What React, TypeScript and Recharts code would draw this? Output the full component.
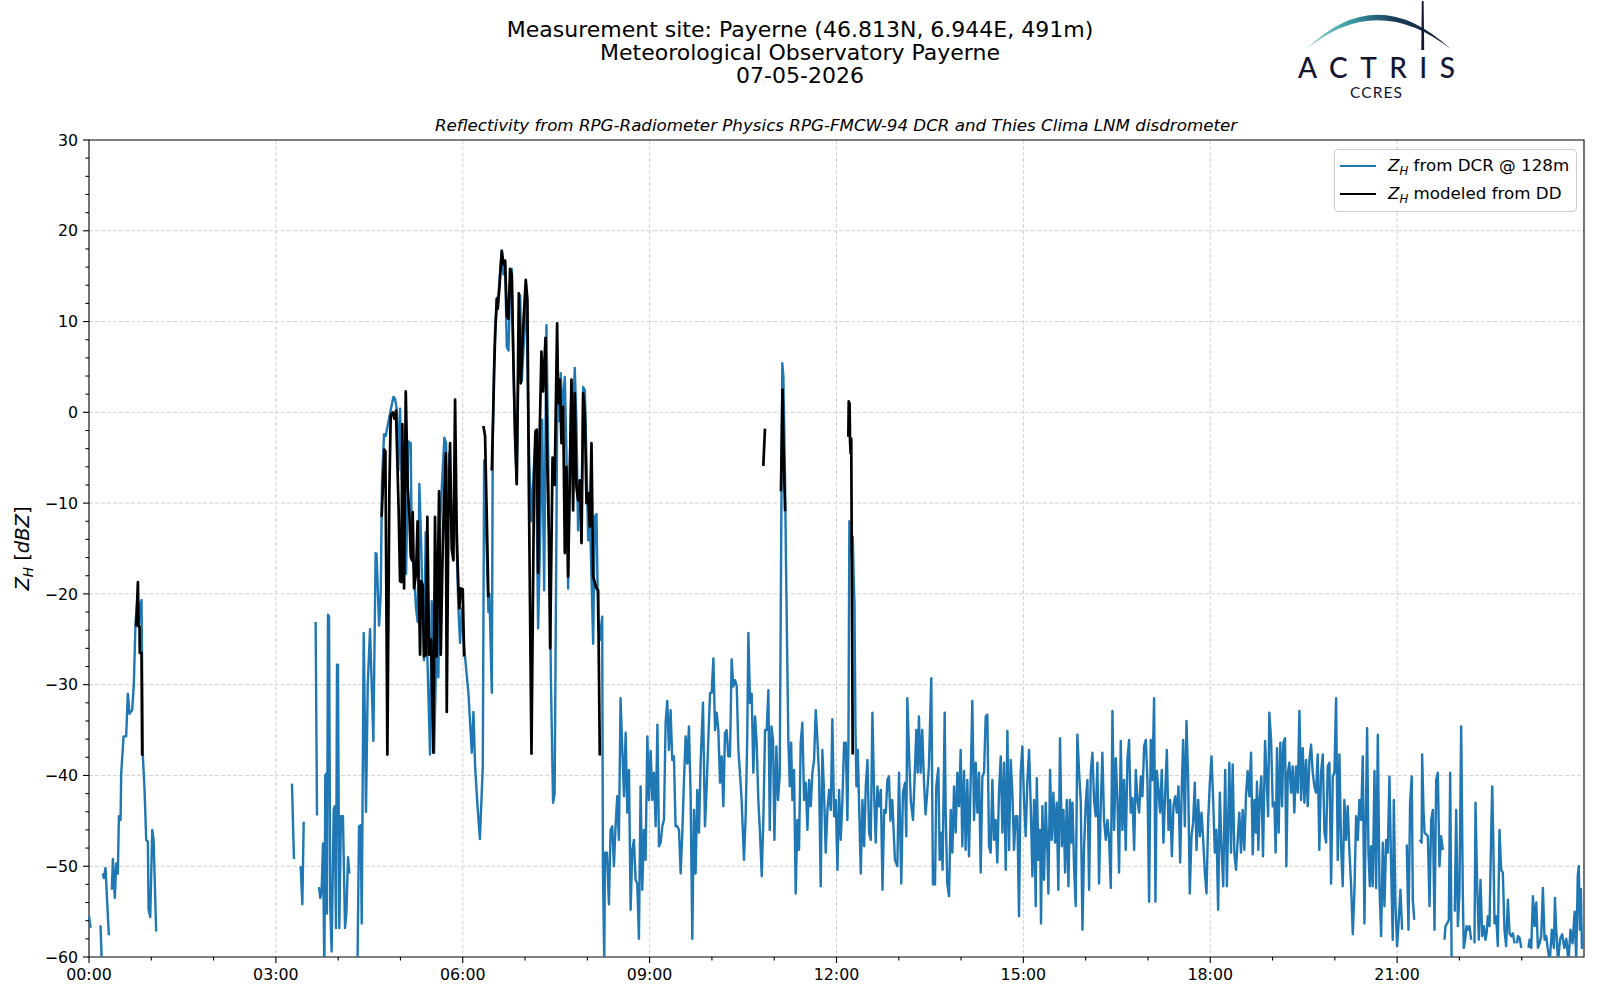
import React from "react";
import { LineChart, Line, XAxis, YAxis, CartesianGrid, ReferenceArea, Legend } from "recharts";

type Pt = [number, number | null];

// Minutes after 00:00 UTC, reflectivity in dBZ (null = no data)
const dcrPoints: Pt[] = [
  [0,-55.5],[1.5,-56.8],[2,null],
  [11.1,-56.5],[12.4,-61],[12.8,null],
  [13.3,-50.8],[14.3,-51.3],[15.9,-50.2],[19.1,-57.6],[20,null],
  [22,-52.6],[23,-49.2],[24.9,-53.5],[26.2,-49.7],[27.8,-50.8],[28.8,-44.5],[30.4,-44.9],[31,-39.8],[33.3,-35.7],[35.8,-35.7],[37.4,-31],[39,-33.2],[41.6,-32.8],[43.2,-29.9],[44.8,-23.2],[46.4,-21],[48,-23.6],[49.6,-21],[50.6,-20.7],[51.9,-37.9],[53.5,-41.6],[55.1,-47.1],[56.7,-47.3],[57.4,-54.8],[59,-55.6],[60.9,-46],[62.2,-47.1],[64.7,-57.2],[65,null],
  [195.5,-40.9],[197.4,-49.2],[198,null],
  [203.9,-50],[205.5,-54.2],[206.8,-45.1],[207,null],
  [218.3,-23.1],[219.6,-44.4],[220,null],
  [221.5,-52.3],[222.8,-53.5],[224.1,-52.6],[225.4,-47.5],[226.7,-62],[227.6,-40],[228.6,-39.8],[229.2,-55.2],[230.2,-22.3],[231.2,-22.5],[232.4,-54.5],[233.7,-59.4],[235.7,-43.8],[236.6,-43.4],[237.9,-56.8],[238.9,-27.8],[239.8,-27.8],[241.1,-56.8],[242.7,-44.5],[244.6,-44.5],[246.6,-56.8],[247.9,-55.2],[249.5,-49],[250.8,-50.8],[251,null],
  [258.5,-62],[260.1,-45.6],[261.7,-45.5],[262.7,-56.3],[264.6,-24.3],[266.8,-44],[268.5,-30],[270.7,-23.9],[273.9,-36.2],[276.1,-15.5],[277,-15.6],[279.4,-23.5],[281,-20],[282.2,-7.6],[284.2,-2.4],[285.8,-2.6],[289.3,-0.5],[291.6,0.8],[293.2,1.7],[294.8,1.5],[296.4,0.4],[298,-6.4],[299.6,0.4],[301.2,-7.2],[303.5,-11],[305.4,-17.8],[307.6,-3.2],[309.9,-3.4],[310.8,-14],[313.1,-17.8],[315,-21.6],[316.6,-23.1],[318.2,-7.9],[319.8,-14],[322.7,-27.3],[324.3,-13.2],[325.9,-26.9],[328.5,-37.7],[330.1,-20.8],[332.4,-37.5],[334.9,-24.6],[336.5,-29.2],[338.2,-12.1],[339.8,-8.3],[342.3,-2.8],[343.9,-3.4],[345.2,-12.1],[347.1,-4.5],[349.4,-14],[352.6,-8.3],[355.8,-21.6],[357.4,-25.4],[359,-21.6],[361.3,-25.8],[365.5,-31],[368.7,-37.5],[370.3,-33],[371.9,-39],[374,-43],[376.5,-47],[379.3,-39],[380.6,-5.3],[384.7,-22],[385.7,-20],[388,-30.9],[388.9,-3.4],[390.2,5.7],[392.8,12.5],[394.4,12.9],[396,15.6],[397.6,17.8],[399.2,15.2],[400.8,16.7],[402.4,7.2],[404,6.8],[405.6,13.3],[407.2,15.8],[408.8,5],[410.4,-2.6],[412,-7.9],[413.7,5],[415.3,12.9],[416.9,3.4],[419.1,8.4],[421,14],[422.3,5],
  [424,-5],[426,-12],[428.5,-6],[430,-3],[431.5,-13],[432.6,-23.8],[434.5,-14],[436.5,-0.8],[438.4,-19.6],[440.6,9.6],[442,-2],[443.5,-15],[445,-30],[447,-43],[448.5,-42],[451.2,3.6],[452.5,-1],[454.4,4.3],[456,0],[458.3,3.9],[459.9,-4.5],[461.5,-19.4],[463.1,-5.6],[464.7,3.2],[466.3,0],[467.9,4.9],[469.5,-1.2],[471.1,-13],[472.8,-7.5],[474.4,-10.4],[476,2.8],[477.6,2.4],[479.2,-5.3],[480.8,-14.1],[482.4,-11.1],[484,-18],[485.6,-25.5],[487.2,-11.5],[488.8,-11.2],[490.4,-23],[492,-25.1],[494.3,-22.5],[495,-50],[496.3,-60.5],
  [497,-48.5],[498.9,-48.5],[500.8,-54.2],[502.4,-46],[504,-45.6],[505.6,-50],[507.2,-45.6],[508.8,-42.3],[510.4,-47.1],[512,-31.5],[513.7,-37.2],[515.3,-42.3],[516.9,-35.3],[518.5,-44.1],[520.1,-39.4],[521.7,-54.8],[523.3,-48.2],[524.9,-47.1],[526.5,-51.5],[528.1,-51.9],[529.7,-58],[531.3,-41.2],[532.9,-52.6],[534.5,-46],[536.1,-49.3],[537.8,-35.7],[539.4,-42.7],[541,-37.3],[542.6,-42.7],[544.2,-39.7],[545.8,-45.6],[547.5,-34.4],[549,-47.8],[550.6,-47.4],[552.2,-45.6],[553.8,-44.9],[555.4,-34.2],[557,-31.8],[558.6,-37.2],[560.2,-32.8],[561.8,-38.3],[563.4,-37.9],[565,-45.6],[566.7,-45.6],[568.3,-46],[569.9,-50.8],[571.5,-46.3],[573,-40.8],[574.7,-35.7],[576.3,-38.7],[577.9,-34.6],[579.5,-42.3],[581.1,-58],[582.7,-43.8],[584.3,-50.8],[585.9,-41.6],[587.5,-46.3],[589.2,-38.3],[591.4,-32],[593.3,-45.6],[594.9,-41.4],[596.5,-36.1],[598.2,-30.9],[599.8,-30.9],[601.4,-27.1],[603,-35],[604.6,-33.1],[606.2,-35],[607.8,-40.8],[609.4,-37.9],[611,-43.4],[612.6,-35.3],[614.2,-35],[615.8,-37.9],[617.4,-37.9],[619,-27.2],[620.6,-30.2],[622.3,-29.5],[623.9,-30.2],[625.5,-37.2],[627,-39.7],[628.6,-42.7],[630.9,-49.3],[632.5,-44.5],[634,-36],[635.1,-24.3],[636.7,-32],[638.3,-31],[639.9,-39.7],[641.5,-33.5],[643.1,-36.4],[644.7,-42.7],[646.3,-46.3],[648,-51.1],[649.6,-44.5],[651.2,-35],[652.8,-35],[654.4,-30.6],[655.7,-46],[657.3,-34.6],[658.9,-36.1],[660.2,-47.1],[662.1,-36.8],[663.7,-42.7],[665.3,-40],[667.8,5.4],[668.8,4],[670.4,-7],[671.5,-18],[673.6,-36],[675,-41.2],[676.3,-36.4],[677.5,-42.7],[679.1,-39.4],[680.7,-53],[682.3,-44.9],[683.9,-48.2],[685.5,-36.4],[687.1,-34.2],[688.8,-42.7],[690.4,-40.8],[692,-46],[693.6,-40.5],[695.2,-43.4],[696.8,-39.7],[698.4,-38.3],[700,-32.8],[701.6,-36.1],[703.2,-40.1],[704.8,-52.2],[706.4,-37.2],[708,-41.9],[709.6,-48.5],[711.3,-43.8],[712.9,-41.6],[714.5,-43.8],[716,-33.8],[717.7,-44.5],[719.3,-42.7],[720.9,-50.4],[722.5,-41.6],[724.1,-47.1],[725.7,-42.7],[727.3,-36.4],[728.9,-36.4],[730.5,-44.9],[731.5,-36.1],[732.4,-12],[733.5,-16],[734.5,-14],[735.7,-13.7],[736.5,-18],[737.3,-21],[738.3,-35],[739.2,-41.2],[740.5,-37.2],[741.8,-43.4],[743.4,-50.8],[745,-42.7],[746.6,-47.8],[748.2,-41.2],[749.8,-38.3],[751.4,-46.3],[753,-47.1],[754.6,-33.1],[756.2,-41.9],[757.8,-47.4],[759.4,-41.2],[761,-43.4],[762.7,-41.6],[764.3,-52.6],[765.9,-43.8],[767.5,-44.1],[769,-40.5],
  [770.5,-40.1],[772,-45],[773.7,-42.7],[776.3,-49.3],[778.6,-50],[780.2,-39.7],[782.4,-51.9],[784,-41.9],[786,-40.8],[787.2,-46.7],[788.2,-31.5],[790.4,-39.4],[791.7,-43],[793.7,-44.9],[795.3,-40.1],[796.9,-35],[798.2,-39.7],[799.4,-33.5],[801,-39.7],[802.6,-35],[804.2,-40.5],[805.8,-44.3],[807.4,-41.9],[809,-39],[811.3,-29.3],[812.9,-52],[814.9,-52],[816.1,-41.2],[818.1,-39.2],[819.4,-49.3],[821,-46.3],[822.2,-50.4],[824.2,-33.1],[825.1,-43.8],[826.7,-51.9],[828.4,-53.3],[830,-43.8],[831.6,-48.5],[833.2,-41.2],[834.8,-46.3],[836.4,-39.7],[838,-43.4],[839.6,-37.2],[841.2,-47.8],[842.8,-39.5],[844.4,-48.2],[846,-40.5],[847.6,-48.9],[849.2,-40.8],[850.8,-31.8],[852.5,-44.9],[854.1,-38.6],[855.7,-44.1],[857.3,-39.7],[858.9,-50.7],[860.5,-40.1],[862.1,-39.7],[863.7,-33.5],[865.3,-33.3],[866.9,-47.8],[868.5,-48.5],[870.1,-40.5],[871.7,-47.1],[873.3,-44.9],[874.9,-49.6],[876.5,-41.9],[878.2,-37.9],[879.8,-46.3],[881.4,-38.6],[883,-50.4],[884.6,-35.1],[886.2,-48.2],[887.8,-38.3],[889.4,-41.9],[891,-48.2],[892.6,-44.5],[894.2,-44.5],[895.8,-55.5],[897.4,-39.7],[899,-36.8],[900.6,-42.7],[902.2,-46.7],[903.9,-40.5],[905.5,-37.2],[907.1,-43.4],[908.7,-51.1],[910.3,-42.7],[911.9,-54.4],[912.9,-40.3],[914.5,-49.3],[916.1,-46],[917,-56.3],[918.3,-43.4],[919.9,-51.5],[921.5,-43],[923.1,-48.2],[924.1,-53],[925.7,-39.4],[927.3,-47.1],[928.9,-41.9],[930.5,-47.4],[932.1,-43],[933.7,-52.6],[935.3,-35.9],[937,-47.8],[938.6,-43.8],[940.2,-50.7],[941.8,-42.7],[943.4,-52.2],[944.8,-42.7],[946.3,-47.4],[947.3,-43],[948.8,-50],[950.4,-54.4],[952,-35.5],[953.7,-39.7],[955.3,-43],[956.9,-57],[958.5,-47.8],[960.1,-43],[961.7,-40.5],[963.3,-52.6],[964.9,-39.7],[966.5,-37.5],[968.1,-42.7],[969.7,-44.5],[971.3,-38.6],[972.9,-51.9],[974.5,-43.4],[976.1,-37.5],[977.7,-44.9],[979.4,-47.1],[981,-44.9],[982.6,-47.1],[984.2,-52.4],[985.8,-32.9],[987.4,-46],[989,-38.1],[990.6,-42.7],[992.2,-50.7],[993.8,-36.2],[995.4,-46],[997,-40.5],[998.6,-48.2],[1000.2,-38.3],[1001.8,-36.1],[1003.4,-44.1],[1005.1,-42.5],[1006.7,-48.2],[1008.3,-39.4],[1009.9,-42.7],[1011.5,-44.1],[1013.1,-40.1],[1014.7,-42.3],[1016.3,-36.8],[1017.9,-36.1],[1019.5,-40.5],[1021.1,-53.9],[1022.7,-36.1],[1024.3,-40.5],[1025.9,-31.5],[1027.2,-53.9],[1028.5,-39.5],[1030.1,-41.6],[1031.7,-44.1],[1033.3,-39.4],[1034.9,-47.4],[1036.5,-42.3],[1038.2,-37.2],[1039.8,-46],[1041.4,-42.7],[1043,-48.9],[1044.6,-43.4],[1046.2,-42.3],[1047.8,-44.1],[1049.4,-41.2],[1051,-49.6],[1052.6,-41.2],[1053.9,-36.1],[1055.5,-45.6],[1057.1,-34],[1058.7,-40.5],[1060.3,-53],[1061.9,-46.7],[1063.5,-45.2],[1065.1,-40.8],[1066.8,-48.2],[1068.4,-42.7],[1070,-46.7],[1071.6,-44.1],[1073.2,-47.1],[1074.8,-50.7],[1076.4,-53],[1078,-44.9],[1079.6,-40.8],[1081.2,-37.9],[1082.8,-42.7],[1084.4,-48.5],[1086,-46],[1087.6,-54.8],[1089.2,-41.9],[1090.8,-47.8],[1092.5,-52.2],[1094.4,-39.4],[1096,-52.2],
  [1098.4,-38.6],[1100,-48.5],[1101.6,-38.8],[1103.2,-48.5],[1104.8,-50.4],[1106.4,-47.1],[1108,-44.1],[1109.6,-48.5],[1111.2,-43.8],[1112.8,-48.2],[1114.4,-42.3],[1116,-39.5],[1117.7,-42.3],[1119.3,-37.5],[1120.9,-48.7],[1122.5,-42.7],[1124,-46.3],[1125,-40.7],[1126.3,-48.2],[1127.6,-42.7],[1129.2,-40.1],[1130.8,-48.9],[1132.8,-36.2],[1134.4,-40.5],[1135.7,-44.5],[1136.9,-33.1],[1138.6,-36.1],[1140.2,-43.4],[1141.8,-43],[1143,-48.5],[1144.3,-37],[1145.9,-46.3],[1147.5,-36.4],[1149.2,-43.4],[1150.4,-36.4],[1152,-35.9],[1153.3,-50],[1154.7,-39.7],[1156.2,-38.6],[1157.8,-41.9],[1159.4,-39],[1161,-44.1],[1162.6,-39],[1164.3,-41.9],[1165.9,-32.9],[1167.5,-42.7],[1169.1,-37],[1170.7,-43],[1172.3,-38.3],[1173.9,-43.4],[1175.5,-38.3],[1177.1,-36.6],[1178.7,-39.7],[1180.3,-41.2],[1181.9,-41.9],[1183.5,-37.7],[1185.1,-48.2],[1186.7,-39.7],[1188.4,-37.7],[1190,-46.3],[1191.6,-47.4],[1193.2,-39],[1194.8,-38.6],[1196.4,-51.9],[1198,-40.1],[1199.6,-39.7],[1201.2,-31.5],[1202.8,-49.3],[1204.4,-37.7],[1206,-47.8],[1207.6,-52.2],[1209.2,-42.7],[1210.8,-47.1],[1212.4,-43.4],[1214,-48.2],[1215.7,-52.2],[1217.3,-57.5],[1218.9,-52.6],[1220.5,-44.5],[1222.1,-47.1],[1223.7,-42.7],[1225.3,-44.9],[1226.9,-37.9],[1228.5,-56.3],[1229.5,-47.1],[1231.1,-34.8],[1232.4,-48.5],[1233.7,-52.2],[1234.9,-47.8],[1236.5,-52.2],[1238.2,-39.5],[1239.8,-52.4],[1241.4,-35.5],[1243,-52.2],[1244.6,-57.7],[1246.2,-47.4],[1247.8,-54.4],[1249.4,-47.1],[1251,-48.5],[1252.6,-40.1],[1254.2,-50],[1255.8,-58.1],[1256.8,-42.7],[1258.4,-54.4],[1260,-58.8],[1261.6,-55.9],[1263.2,-52.6],[1264.8,-57],[1265.5,null],
  [1269.3,-47.6],[1270.9,-57],[1272.5,-43],[1274.1,-40.1],[1275.1,-53.7],[1276.5,-55.9],[1277,null],
  [1281.7,-47.1],[1283.6,-47.4],[1284.1,-37.7],[1285.4,-43.8],[1286.4,-46.3],[1289.6,-46.7],[1291.2,-54.4],[1292.8,-44.9],[1294.4,-43.8],[1296,-57],[1297.6,-40.5],[1299.2,-39.7],[1300.8,-50],[1302.4,-46.7],[1304,-48.2],[1304.5,null],
  [1305.6,-58.1],[1306.6,-56.6],[1308.2,-56.3],[1309.8,-55.9],[1311.1,-39.7],[1312.5,-60.5],[1313,null],
  [1315.5,-55],[1316.9,-43.8],[1318.5,-56.6],[1320,-53],[1321.7,-34.6],[1323.3,-53.3],[1324.2,-59],[1325.5,-58.1],[1326.8,-56.6],[1328.1,-57],[1329.7,-56.6],[1331.3,-58.1],[1332,null],
  [1334.5,-58.5],[1335.5,-43],[1337.1,-52.2],[1338.7,-58.1],[1340.3,-51.5],[1341.9,-57.7],[1343.5,-56.6],[1345.1,-58.1],[1346.2,-57.4],[1347.4,-55.5],[1349,-56.6],[1350.6,-46.3],[1351.6,-41.2],[1352.5,-46.3],[1353.8,-56.3],[1355.4,-55.5],[1357,-58.8],[1358.6,-46],[1360.2,-50.4],[1361.8,-50.7],[1363.4,-57],[1365,-58.8],[1366.7,-53.7],[1368.3,-57.4],[1369.9,-57.7],[1371.5,-57.4],[1373.1,-58.5],[1374,null],
  [1375.5,-58.5],[1376.3,-57.7],[1378,-57.9],[1379.6,-59],[1380.5,null],
  [1386.5,-59],[1387.6,-58.1],[1389.2,-59],[1390.8,-53.3],[1392.4,-56.6],[1394,-54],[1395.6,-59],[1397.2,-58.5],[1398.8,-57.7],[1400.4,-52.4],[1402,-58.1],[1403.6,-57.7],[1405,-59],[1407,-60.5],[1409,-57],[1411,-59],[1412,-53.5],[1413,-56.5],[1415,-60.5],[1417,-58],[1419,-57.5],[1421,-59],[1423,-58],[1425,-60.5],[1427,-57],[1429,-58.5],[1431,-55],[1432.5,-60.5],[1434,-51],[1435,-50],[1436,-57],[1437,-52.5],[1438,-59],[1439,-58.5],
];

const ddPoints: Pt[] = [
  [45.5,-23.6],[47.1,-18.7],[47.7,-23.6],[48.7,-23.6],[48.9,-26.5],[50.6,-26.5],[51.2,-37.7],[52.5,-37.7],[53,null],
  [281.9,-11.5],[284.5,-4.1],[285.5,-4.3],[287.4,-37.7],[289.3,-8.7],[290.6,-0.4],[292.5,0],[294.1,-0.7],[295.7,0.2],[298.3,-11],[299.6,-18.6],[300.9,-18.7],[301.8,-1.3],[303.5,-19.4],[305.1,2.3],[307,-8.3],[308.6,-11.3],[309.9,-15.9],[311.1,-16.3],[311.8,-11],[313.1,-19.4],[315,-17.8],[316.5,-12],[318.9,-26.7],[319.8,-18.6],[321.4,-19],[322.7,-26.9],[324.6,-26.7],[325.9,-11.5],[327.6,-26.7],[329.5,-25],[331.7,-37.5],[333.3,-11.5],[334.9,-26.9],[337.2,-8.7],[338.8,-26.7],[340.7,-15.1],[342,-9.5],[343.6,-4.5],[344.6,-33],[346.2,-11],[347.8,-3.4],[349.4,-15.1],[351,-16.3],[352.6,1.4],[354.2,-13.2],[355.8,-19.4],[356.8,-21.6],[358.1,-19.4],[360,-19.5],[361.3,-26.9],[362,null],
  [379.9,-1.5],[381.5,-2.6],[383.1,-11.3],[384.7,-20.4],[385.5,null],
  [388,-6.4],[390.2,4.2],[391.2,8.7],[392.8,12.5],[393.7,11.4],[395.3,13.7],[397.6,17.8],[399.2,16.3],[400.8,16.7],[402.4,10.6],[404,10.3],[405.6,15.8],[407.2,15.2],[408.8,5.7],[410.4,-2.6],[412,-7.9],[414,13.1],[415.9,3.2],[418.1,9.1],[420.7,14.6],[422.3,12.4],[423.6,-7.5],[426.2,-37.6],[428.7,-7.5],[430,-2.1],[431.3,-1.9],[432.6,-17.7],[434.2,-1.8],[435.8,6.7],[437.4,2.3],[439.7,8.2],[441.3,-4.9],[442.9,-13.3],[444.2,-26],[446.5,-5],[448.5,-8],[450.9,9.8],[451.9,1],[453.5,3.6],[455.1,-3.4],[456.7,0.6],[458.3,-15.5],[459.9,-6],[461.5,-18.1],[463.1,-7.5],[464.7,3.6],[466.3,-10.8],[467.9,2.1],[469.5,-8.2],[471.1,-9.7],[472.8,-7.5],[474.4,-14.4],[476,2.1],[477.6,-0.1],[479.2,-10],[480.8,-8.9],[482.4,-12.6],[484,-3.4],[485.6,-18.1],[488.8,-19.4],[490.4,-19.6],[492,-37.8],[492.5,null],
  [649.5,-5.9],[651.1,-1.8],[651.5,null],
  [666.5,-8.7],[668,2.5],[669,-4],[670.5,-10.9],[671,null],
  [731.4,-2.7],[731.8,1.2],[732.6,1.0],[733,-3],[733.6,-4.5],[734.2,-2.9],[735.6,-37.7],
];

const xTicks = [0,60,120,180,240,300,360,420,480,540,600,660,720,780,840,900,960,1020,1080,1140,1200,1260,1320,1380];
const xMajorTicks = [0,180,360,540,720,900,1080,1260];
const xTickLabels = ["00:00","03:00","06:00","09:00","12:00","15:00","18:00","21:00"];
const yTicks = [-60,-58,-56,-54,-52,-50,-48,-46,-44,-42,-40,-38,-36,-34,-32,-30,-28,-26,-24,-22,-20,-18,-16,-14,-12,-10,-8,-6,-4,-2,0,2,4,6,8,10,12,14,16,18,20,22,24,26,28,30];
const yMajorTicks = [-60,-50,-40,-30,-20,-10,0,10,20,30];
const yTickLabels = ["−60","−50","−40","−30","−20","−10","0","10","20","30"];
const gridY = [-50,-40,-30,-20,-10,0,10,20];
const gridX = [180,360,540,720,900,1080,1260];

const titleLines = ["Measurement site: Payerne (46.813N, 6.944E, 491m)", "Meteorological Observatory Payerne", "07-05-2026"];
const subtitle = "Reflectivity from RPG-Radiometer Physics RPG-FMCW-94 DCR and Thies Clima LNM disdrometer";
const legendLabels = ["from DCR @ 128m", "modeled from DD"];
const seriesColors = ["#1f77b4", "#000000"];

const dcrData = dcrPoints.map(([t, v]) => ({ t, v }));
const ddData = ddPoints.map(([t, v]) => ({ t, v }));

const FONT = "DejaVu Sans, sans-serif";
const TICK_FONT = 15.8;

const XTick = (props: any) => {
  const { x, y, payload } = props;
  const idx = xMajorTicks.indexOf(payload.value);
  const major = idx >= 0;
  return (
    <g>
      <line x1={x} x2={x} y1={y} y2={y + (major ? 6 : 3.5)} stroke="#000" strokeWidth={1.1} />
      {major && (
        <text x={x} y={y + 23} textAnchor="middle" fontSize={TICK_FONT} fontFamily={FONT} fill="#000">
          {xTickLabels[idx]}
        </text>
      )}
    </g>
  );
};

const YTick = (props: any) => {
  const { x, y, payload } = props;
  const idx = yMajorTicks.indexOf(payload.value);
  const major = idx >= 0;
  return (
    <g>
      <line x1={x - (major ? 6 : 3.5)} x2={x} y1={y} y2={y} stroke="#000" strokeWidth={1.1} />
      {major && (
        <text x={x - 11} y={y + 5.7} textAnchor="end" fontSize={TICK_FONT} fontFamily={FONT} fill="#000">
          {yTickLabels[idx]}
        </text>
      )}
    </g>
  );
};

const ZH = ({ size }: { size: number }) => (
  <>
    <span style={{ fontStyle: "italic" }}>Z</span>
    <span style={{ fontStyle: "italic", fontSize: size * 0.7, position: "relative", top: size * 0.22 }}>H</span>
  </>
);

const renderLegend = () => (
  <div
    style={{
      width: 243,
      height: 63,
      boxSizing: "border-box",
      border: "1px solid #cccccc",
      borderRadius: 4,
      background: "rgba(255,255,255,0.8)",
      position: "relative",
      fontFamily: FONT,
      fontSize: 16.7,
      color: "#000",
    }}
  >
    {legendLabels.map((lab, i) => (
      <div
        key={lab}
        style={{ position: "absolute", left: 5, top: 4 + i * 28, height: 24, display: "flex", alignItems: "center", whiteSpace: "nowrap" }}
      >
        <div style={{ width: 36, height: 2.5, background: seriesColors[i] }} />
        <div style={{ marginLeft: 12, lineHeight: "24px" }}>
          <ZH size={16.7} /> {lab}
        </div>
      </div>
    ))}
  </div>
);

export default function App() {
  return (
    <div style={{ position: "fixed", left: 0, top: 0, width: 1600, height: 1000, background: "#fff", overflow: "hidden" }}>
      <LineChart width={1600} height={1000} margin={{ top: 140, right: 16, bottom: 13, left: 29 }}>
        <CartesianGrid stroke="#d4d4d4" strokeDasharray="4 2" strokeWidth={1} horizontalValues={gridY} verticalValues={gridX} />
        <XAxis
          dataKey="t"
          type="number"
          domain={[0, 1440]}
          ticks={xTicks}
          interval={0}
          height={30}
          axisLine={false}
          tickLine={false}
          tickSize={0}
          tickMargin={0}
          tick={<XTick />}
        />
        <YAxis
          type="number"
          domain={[-60, 30]}
          allowDataOverflow
          ticks={yTicks}
          interval={0}
          width={60}
          axisLine={false}
          tickLine={false}
          tickSize={0}
          tickMargin={0}
          tick={<YTick />}
        />
        <Line data={dcrData} dataKey="v" type="linear" stroke={seriesColors[0]} strokeWidth={2.4} dot={false} activeDot={false} isAnimationActive={false} connectNulls={false} strokeLinejoin="round" />
        <Line data={ddData} dataKey="v" type="linear" stroke={seriesColors[1]} strokeWidth={2.7} dot={false} activeDot={false} isAnimationActive={false} connectNulls={false} strokeLinejoin="round" />
        <ReferenceArea x1={0} x2={1440} y1={-60} y2={30} fill="none" fillOpacity={0} stroke="#000" strokeWidth={1.1} />
        <Legend
          layout="horizontal"
          verticalAlign="middle"
          align="center"
          wrapperStyle={{ left: 1334, top: 149, width: 243, height: 63 }}
          content={renderLegend}
        />
      </LineChart>
      <svg width={1600} height={1000} style={{ position: "absolute", left: 0, top: 0, pointerEvents: "none" }}>
        <defs>
          <linearGradient id="arcGrad" x1="1306" y1="0" x2="1451" y2="0" gradientUnits="userSpaceOnUse">
            <stop offset="0" stopColor="#8fd0cf" />
            <stop offset="0.3" stopColor="#3a9ea6" />
            <stop offset="0.6" stopColor="#1c3f5c" />
            <stop offset="1" stopColor="#141432" />
          </linearGradient>
        </defs>
        {titleLines.map((l, i) => (
          <text key={i} x={800} y={36.5 + i * 23} textAnchor="middle" fontSize={22} fontFamily={FONT} fill="#000">
            {l}
          </text>
        ))}
        <text x={836} y={131} textAnchor="middle" fontSize={16.7} fontStyle="italic" fontFamily={FONT} fill="#000">
          {subtitle}
        </text>
        <text transform="translate(29,548.5) rotate(-90)" textAnchor="middle" fontSize={19.5} fontFamily={FONT} fill="#000">
          <tspan fontStyle="italic">Z</tspan>
          <tspan fontStyle="italic" fontSize={13.6} dy={4}>H</tspan>
          <tspan dy={-4}> [</tspan>
          <tspan fontStyle="italic">dBZ</tspan>
          <tspan>]</tspan>
        </text>
        <path d="M1306 49.3 Q1377 -20 1451 49.3 Q1377 -9 1306 49.3 Z" fill="url(#arcGrad)" />
        <path d="M1421.8 1 L1423.6 1 L1424.2 50 L1421.3 50 Z" fill="#141432" />
        <text x={1298} y={78.3} fontSize={28} fontWeight={500} fontFamily="Lato, sans-serif" fill="#141432" textLength={157} lengthAdjust="spacing">
          ACTRIS
        </text>
        <text x={1350} y={98.3} fontSize={15.5} fontFamily="Lato, sans-serif" fill="#141432" textLength={52} lengthAdjust="spacing">
          CCRES
        </text>
      </svg>
    </div>
  );
}
